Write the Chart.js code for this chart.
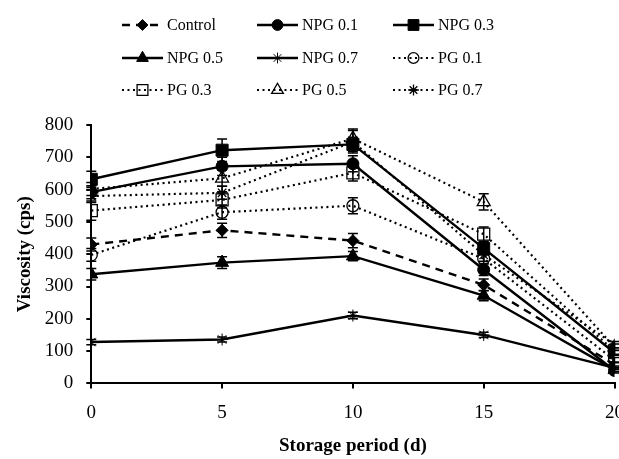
<!DOCTYPE html>
<html>
<head>
<meta charset="utf-8">
<script src="https://cdn.jsdelivr.net/npm/chart.js@4"></script>
<style>
  html, body { margin: 0; padding: 0; background: #fff; overflow: hidden; }
  #chart { display: block; }
</style>
</head>
<body>
<canvas id="chart" width="637" height="459"></canvas>
<script>
// storage days
const days = [0, 5, 10, 15, 20];

// viscosity (cps) per treatment
const control = [430, 474, 442, 305, 58];
const npg01 = [592, 672, 680, 352, 40];
const npg03 = [632, 722, 740, 418, 95];
const npg05 = [338, 374, 394, 272, 42];
const npg07 = [128, 136, 210, 150, 48];
const pg01 = [398, 530, 550, 386, 72];
const pg03 = [535, 568, 652, 462, 100];
const pg05 = [602, 635, 758, 562, 112];
const pg07 = [580, 590, 748, 398, 120];

// standard deviation bars
const errControl = [20, 22, 22, 18, 8];
const errNpg01 = [20, 28, 25, 18, 8];
const errNpg03 = [25, 35, 22, 20, 8];
const errNpg05 = [18, 18, 14, 16, 6];
const errNpg07 = [8, 8, 10, 8, 6];
const errPg01 = [20, 22, 25, 15, 8];
const errPg03 = [30, 25, 25, 22, 10];
const errPg05 = [20, 25, 30, 25, 10];
const errPg07 = [20, 20, 35, 20, 10];

const yTicks = [0, 100, 200, 300, 400, 500, 600, 700, 800];

const SERIF = "'Liberation Serif', 'Times New Roman', serif";
const DOT = [2, 3.5];

function pts(vals) {
  return vals.map((v, i) => ({ x: days[i], y: v }));
}

function series(label, vals, errs, shape, filled, dash, r) {
  return {
    label: label,
    data: pts(vals),
    errors: errs,
    borderColor: "#000",
    backgroundColor: "#000",
    borderWidth: dash === DOT ? 2.2 : 2.4,
    borderDash: dash,
    pointStyle: shape,
    pointRadius: r,
    pointHoverRadius: r,
    pointBorderWidth: filled ? 1 : 1.3,
    pointBackgroundColor: filled ? "#000" : "rgba(0,0,0,0)",
    pointBorderColor: "#000",
    tension: 0,
    fill: false,
  };
}

const datasets = [
  series("Control", control, errControl, "rectRot", true, [8, 6], 6),
  series("NPG 0.1", npg01, errNpg01, "circle", true, [], 6),
  series("NPG 0.3", npg03, errNpg03, "rect", true, [], 8.5),
  series("NPG 0.5", npg05, errNpg05, "triangle", true, [], 7.5),
  series("NPG 0.7", npg07, errNpg07, "star", true, [], 6),
  series("PG 0.1", pg01, errPg01, "circle", false, DOT, 6),
  series("PG 0.3", pg03, errPg03, "rect", false, DOT, 8.5),
  series("PG 0.5", pg05, errPg05, "triangle", false, DOT, 7.5),
  series("PG 0.7", pg07, errPg07, "star", false, DOT, 6),
];

// error bars drawn with the chart scales
const errorBars = {
  id: "errorBars",
  afterDatasetsDraw(chart) {
    const ctx = chart.ctx;
    const xs = chart.scales.x;
    const ys = chart.scales.y;
    ctx.save();
    ctx.strokeStyle = "#000";
    ctx.lineWidth = 1.5;
    ctx.setLineDash([]);
    chart.data.datasets.forEach((ds) => {
      ds.data.forEach((p, i) => {
        const e = ds.errors[i];
        const px = xs.getPixelForValue(p.x);
        const top = ys.getPixelForValue(p.y + e);
        const bot = ys.getPixelForValue(p.y - e);
        ctx.beginPath();
        ctx.moveTo(px, top);
        ctx.lineTo(px, bot);
        ctx.moveTo(px - 5, top);
        ctx.lineTo(px + 5, top);
        ctx.moveTo(px - 5, bot);
        ctx.lineTo(px + 5, bot);
        ctx.stroke();
      });
    });
    ctx.restore();
  },
};

// 3 x 3 legend at the top
const gridLegend = {
  id: "gridLegend",
  afterDraw(chart) {
    const ctx = chart.ctx;
    const colX = [122, 257, 393];
    const rowY = [25, 58, 90];
    const lineW = 41;
    ctx.save();
    chart.data.datasets.forEach((ds, i) => {
      const x = colX[i % 3];
      const y = rowY[Math.floor(i / 3)];
      ctx.strokeStyle = "#000";
      ctx.lineWidth = ds.borderWidth;
      ctx.setLineDash(ds.borderDash);
      ctx.beginPath();
      ctx.moveTo(x, y);
      ctx.lineTo(x + lineW, y);
      ctx.stroke();
      ctx.setLineDash([]);
      ctx.fillStyle = ds.pointBackgroundColor;
      ctx.lineWidth = ds.pointBorderWidth;
      Chart.helpers.drawPoint(ctx, {
        pointStyle: ds.pointStyle,
        radius: ds.pointRadius * 0.9,
        borderWidth: ds.pointBorderWidth,
      }, x + lineW / 2, y);
      ctx.fillStyle = "#000";
      ctx.font = "16px " + SERIF;
      ctx.textBaseline = "middle";
      ctx.fillText(ds.label, x + lineW + 4, y + 1);
    });
    ctx.restore();
  },
};

Chart.defaults.font.family = SERIF;
Chart.defaults.color = "#000";

new Chart(document.getElementById("chart"), {
  type: "line",
  data: { datasets },
  plugins: [errorBars, gridLegend],
  options: {
    responsive: false,
    animation: false,
    layout: { padding: { top: 125, right: 0, left: 14, bottom: 2 } },
    plugins: {
      legend: { display: false },
      tooltip: { enabled: false },
    },
    scales: {
      x: {
        type: "linear",
        min: 0,
        max: 20,
        ticks: { stepSize: 5, font: { size: 19 }, padding: 13 },
        grid: { drawOnChartArea: false, drawTicks: true, tickLength: 5, color: "#000", lineWidth: 2 },
        border: { display: true, color: "#000", width: 2 },
        title: { display: true, text: "Storage period (d)", font: { size: 19, weight: "bold" }, padding: { top: -3, bottom: 0 } },
      },
      y: {
        min: 0,
        max: 800,
        afterBuildTicks(axis) {
          axis.ticks = yTicks.map((v) => ({ value: v }));
        },
        ticks: { font: { size: 19 }, padding: 13 },
        grid: { drawOnChartArea: false, drawTicks: true, tickLength: 5, color: "#000", lineWidth: 2 },
        border: { display: true, color: "#000", width: 2 },
        title: { display: true, text: "Viscosity (cps)", font: { size: 19, weight: "bold" }, padding: { top: 0, bottom: -5 } },
      },
    },
  },
});
</script>
</body>
</html>
